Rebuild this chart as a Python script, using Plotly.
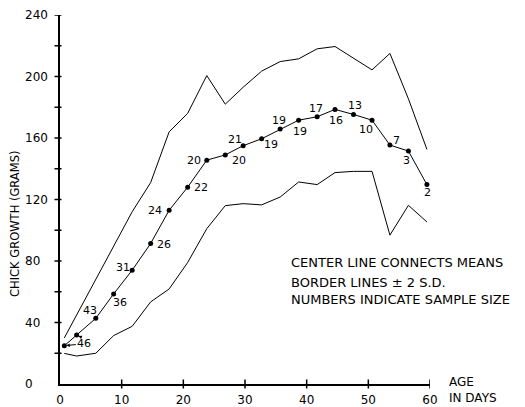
import plotly.graph_objects as go

# ---- data ----
days = [0.7, 2.7, 5.8, 8.7, 11.7, 14.7, 17.7, 20.7, 23.8, 26.8, 29.7, 32.7,
        35.7, 38.7, 41.7, 44.6, 47.6, 50.6, 53.5, 56.5, 59.5]
means = [24.9, 31.8, 42.7, 58.6, 74.0, 91.4, 113.0, 128.0, 145.6, 149.0, 155.0,
         159.5, 165.8, 171.6, 173.8, 178.6, 175.3, 171.6, 155.4, 151.5, 129.7]
upper = [30, 45, 68, 90, 112, 131, 164, 176, 200.6, 182, 193, 203.5, 209.7,
         211.5, 218, 219.5, 212, 204.3, 215, 185.5, 152.6]
lower = [19.9, 18.2, 20, 31.5, 37.5, 53.4, 61.8, 79, 101, 116, 117.3, 116.5,
         121.6, 131.4, 129.7, 137.5, 138.3, 138.3, 96.8, 116.2, 105.4]
sizes = [46, 46, 43, 36, 31, 26, 24, 22, 20, 20, 21, 19, 19, 19, 17, 16, 13,
         10, 7, 3, 2]
x_tick_vals = [0, 10, 20, 30, 40, 50, 60]
y_label_vals = [0, 40, 80, 120, 160, 200, 240]
y_tick_vals = [20, 40, 60, 80, 100, 120, 140, 160, 180, 200, 220, 240]
notes = ["CENTER LINE CONNECTS MEANS",
         "BORDER LINES ± 2 S.D.",
         "NUMBERS INDICATE SAMPLE SIZE"]
y_title = "CHICK GROWTH (GRAMS)"
x_title = ["AGE", "IN DAYS"]

# ---- label placement (pixel offsets, screen coords: +dy = down) ----
label_offsets = [None, None, (-6, -8), (6, 9), (-9, -3), (13, 1), (-14, 0),
                 (13, 0), (-13, 0), (14, 6), (-8, -6), (9, 6), (-1, -9),
                 (1, 11), (-1, -8), (1, 11), (1, -9), (-6, 9), (7, -5),
                 (-2, 9), (1, 8)]

FONT = "DejaVu Sans"
INK = "black"
PLOT_W, PLOT_H = 370, 369   # plot-area size in px (from margins below)

fig = go.Figure()

fig.add_trace(go.Scatter(x=days, y=upper, mode="lines",
                         line=dict(color=INK, width=1), hoverinfo="skip"))
fig.add_trace(go.Scatter(x=days, y=lower, mode="lines",
                         line=dict(color=INK, width=1), hoverinfo="skip"))
fig.add_trace(go.Scatter(x=days, y=means, mode="lines+markers",
                         line=dict(color=INK, width=1),
                         marker=dict(color=INK, size=5), hoverinfo="skip"))

shapes = []
# x-axis tick marks crossing the axis line
for v in x_tick_vals[1:]:
    shapes.append(dict(type="line", xref="x", yref="paper",
                       x0=v, x1=v, y0=-4.5 / PLOT_H, y1=4.5 / PLOT_H,
                       line=dict(color=INK, width=1.5), layer="above"))
# y-axis tick marks (left of the axis line)
for v in y_tick_vals:
    shapes.append(dict(type="line", xref="paper", yref="y",
                       x0=-5.5 / PLOT_W, x1=1.5 / PLOT_W, y0=v, y1=v,
                       line=dict(color=INK, width=1.5), layer="above"))

annotations = []
# sample size labels
for i, (d, m, n) in enumerate(zip(days, means, sizes)):
    off = label_offsets[i]
    if off is None:
        continue
    annotations.append(dict(x=d, y=m, xref="x", yref="y", text=str(n),
                            showarrow=False, xshift=off[0], yshift=-off[1],
                            font=dict(family=FONT, size=11, color=INK)))
# shared "46" label with arrows to the first two points
annotations.append(dict(x=days[0], y=means[0], xref="x", yref="y",
                        text=str(sizes[0]), showarrow=True, ax=20, ay=-2,
                        arrowhead=2, arrowsize=0.7, arrowwidth=1,
                        arrowcolor=INK, standoff=2,
                        font=dict(family=FONT, size=11, color=INK)))
annotations.append(dict(x=days[1], y=means[1], xref="x", yref="y",
                        text=" ", showarrow=True, ax=7, ay=3,
                        arrowhead=2, arrowsize=0.7, arrowwidth=1,
                        arrowcolor=INK, standoff=2,
                        font=dict(family=FONT, size=6, color=INK)))
# y tick labels (left aligned like the hand lettering)
for v in y_label_vals:
    annotations.append(dict(x=-0.1, y=v, xref="paper", yref="y", text=str(v),
                            showarrow=False, xanchor="left", yanchor="middle",
                            font=dict(family=FONT, size=12, color=INK)))
# y-axis title
annotations.append(dict(x=-0.1216, y=0.4336, xref="paper", yref="paper",
                        text=y_title, textangle=-90, showarrow=False,
                        xanchor="center", yanchor="middle",
                        font=dict(family=FONT, size=11.5, color=INK)))
# x-axis title at the right
for t, yp in zip(x_title, [0.005, -0.038]):
    annotations.append(dict(x=1.046, y=yp, xref="paper", yref="paper", text=t,
                            showarrow=False, xanchor="left", yanchor="middle",
                            font=dict(family=FONT, size=12, color=INK)))
# notes
for t, yp in zip(notes, [0.328, 0.276, 0.228]):
    annotations.append(dict(x=0.619, y=yp, xref="paper", yref="paper", text=t,
                            showarrow=False, xanchor="left", yanchor="middle",
                            font=dict(family=FONT, size=13, color=INK)))

fig.update_layout(
    width=525, height=407,
    margin=dict(l=60, r=95, t=15, b=23, pad=0),
    paper_bgcolor="white", plot_bgcolor="white",
    showlegend=False,
    annotations=annotations,
    shapes=shapes,
    xaxis=dict(range=[0, 60], showgrid=False, zeroline=False, automargin=False,
               showline=True, linewidth=2, linecolor=INK,
               tickmode="array", tickvals=x_tick_vals,
               ticktext=[str(v) for v in x_tick_vals],
               ticks="", ticklabelstandoff=4,
               tickfont=dict(family=FONT, size=12, color=INK)),
    yaxis=dict(range=[0, 240], showgrid=False, zeroline=False, automargin=False,
               showline=True, linewidth=2, linecolor=INK,
               showticklabels=False, ticks=""),
)

fig.write_html("out.html",
               config={"displayModeBar": False},
               post_script="document.body.style.margin='0px';"
                           "document.body.style.overflow='hidden';")
